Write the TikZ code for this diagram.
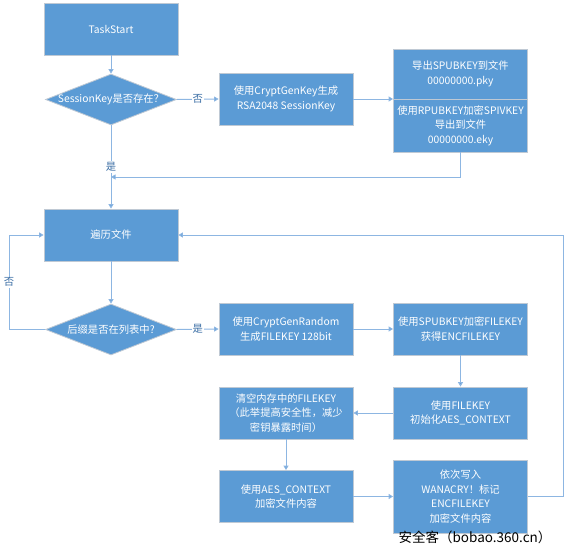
\documentclass[tikz,border=0pt]{standalone}
\usepackage{fontspec}
\newfontfamily\cjk{Noto Sans CJK SC}
\usetikzlibrary{shapes.geometric,arrows.meta}

\definecolor{boxblue}{HTML}{5B9BD5}
\definecolor{boxedge}{HTML}{BFC9D4}
\definecolor{linkblue}{HTML}{8DB6E2}
\definecolor{tipblue}{HTML}{5B9BD5}
\definecolor{labelblue}{HTML}{3B6EA5}

\tikzset{
    procbox/.style={rectangle, fill=boxblue, draw=boxedge, line width=0.8pt,
        minimum width=134pt, minimum height=52pt, inner sep=0pt,
        text=white, align=center, font=\cjk\fontsize{10.3}{14.5}\selectfont},
    decision/.style={diamond, fill=boxblue, draw=boxedge, line width=0.8pt,
        minimum width=131pt, minimum height=51pt, inner sep=0pt},
    dtext/.style={text=white, inner sep=0pt, font=\cjk\fontsize{10.3}{13}\selectfont},
    link/.style={draw=linkblue, line width=1pt,
        -{Triangle[width=5pt,length=4.5pt,fill=tipblue]}},
    plainlink/.style={draw=linkblue, line width=1pt},
    answer/.style={fill=white, text=labelblue, inner sep=1pt,
        font=\cjk\fontsize{10.3}{12}\selectfont}
}

\begin{document}
\begin{tikzpicture}[x=1pt,y=-1pt]
    \useasboundingbox (0,0) rectangle (567,554);

    % Session key part
    \node[procbox] (start) at (111,29) {TaskStart};
    \node[decision] (askkey) at (111,99.5) {};
    \node[dtext] at (askkey) {SessionKey是否存在？};
    \node[procbox] (genkey) at (286,99) {使用CryptGenKey生成\\RSA2048 SessionKey};
    \node[procbox, minimum height=50pt] (pky) at (460.5,74) {导出SPUBKEY到文件\\00000000.pky};
    \node[procbox, minimum height=53pt] (eky) at (460.5,125.5) {使用RPUBKEY加密SPIVKEY\\导出到文件\\00000000.eky};

    % File loop part
    \node[procbox] (walk) at (111,235) {遍历文件};
    \node[decision] (askext) at (111,329.5) {};
    \node[dtext] at (askext) {后缀是否在列表中?};
    \node[procbox] (genrand) at (286,329) {使用CryptGenRandom\\生成FILEKEY 128bit};
    \node[procbox] (encfk) at (460.5,329) {使用SPUBKEY加密FILEKEY\\获得ENCFILEKEY};
    \node[procbox] (initaes) at (460.5,413) {使用FILEKEY\\初始化AES\_CONTEXT};
    \node[procbox] (wipe) at (286,413) {清空内存中的FILEKEY\\（此举提高安全性，减少\\密钥暴露时间）};
    \node[procbox] (useaes) at (286,496.5) {使用AES\_CONTEXT\\加密文件内容};
    \node[procbox, minimum height=73pt] (writeout) at (460.5,496.5) {依次写入\\WANACRY！标记\\ENCFILEKEY\\加密文件内容};

    % Corner points of the connectors
    \coordinate (join) at (111,177);
    \coordinate (lback) at (9,329.5);
    \coordinate (rback) at (563,496.5);

    % Connectors
    \draw[link] (start) -- (askkey);
    \draw[link] (askkey.east) -- node[answer] {否} (genkey.west);
    \draw[link] (genkey.east) -- (genkey.east -| eky.west);
    \draw[link] (eky.south) |- (join);
    \draw[link] (askkey.south) -- node[answer, pos=0.5] {是} (walk.north);

    \draw[link] (walk) -- (askext);
    \draw[link] (askext.east) -- node[answer] {是} (genrand.west);
    \draw[plainlink] (askext.west) -- (lback);
    \draw[link] (lback) |- node[answer, pos=0.25] {否} (walk.west);
    \draw[link] (genrand) -- (encfk);
    \draw[link] (encfk) -- (initaes);
    \draw[link] (initaes) -- (wipe);
    \draw[link] (wipe) -- (useaes);
    \draw[link] (useaes) -- (writeout);
    \draw[plainlink] (writeout.east) -- (rback);
    \draw[link] (rback) |- (walk.east);

    % Watermark
    \node[inner sep=0pt, font=\cjk\fontsize{13.5}{15}\selectfont] (mark) at (475,537) {安全客（bobao.360.cn）};
\end{tikzpicture}
\end{document}
